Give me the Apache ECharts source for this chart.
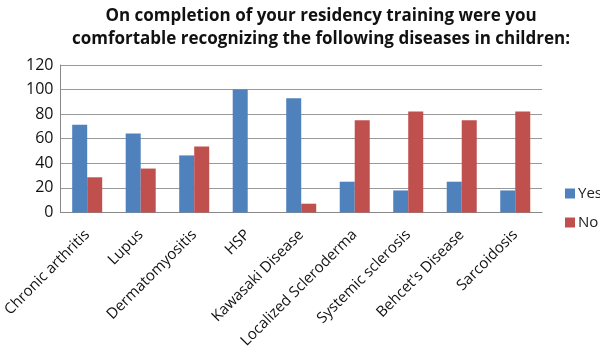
<!DOCTYPE html>
<html>
<head>
<meta charset="utf-8">
<script src="https://cdn.jsdelivr.net/npm/echarts@6/dist/echarts.min.js"></script>
<style>
  html, body { margin: 0; padding: 0; background: #fff; }
  #chart { width: 600px; height: 351px; }
</style>
</head>
<body>
<div id="chart"></div>
<script>
const categories = [
  'Chronic arthritis', 'Lupus', 'Dermatomyositis', 'HSP', 'Kawasaki Disease',
  'Localized Scleroderma', 'Systemic sclerosis', "Behcet's Disease", 'Sarcoidosis'
]
const yesValues = [71.4, 64.3, 46.4, 100, 92.9, 25, 17.9, 25, 17.9]
const noValues = [28.6, 35.7, 53.6, 0, 7.1, 75, 82.1, 75, 82.1]
const yTicks = { min: 0, max: 120, interval: 20 }

const chart = echarts.init(document.getElementById('chart'))

chart.setOption({
  backgroundColor: '#fff',
  animation: false,
  textStyle: { fontFamily: 'Open Sans' },
  title: {
    text: 'On completion of your residency training were you\ncomfortable recognizing the following diseases in children:',
    left: 316,
    top: 0,
    textAlign: 'center',
    textStyle: {
      fontFamily: 'Open Sans',
      fontSize: 17,
      fontWeight: 'bold',
      color: '#111',
      lineHeight: 23,
      align: 'center',
    },
  },
  legend: {
    orient: 'vertical',
    left: 560,
    top: 181,
    itemWidth: 10,
    itemHeight: 10,
    itemGap: 14,
    icon: 'rect',
    textStyle: { fontSize: 15, color: '#222', padding: [0, 0, 0, -2] },
    data: ['Yes', 'No'],
  },
  grid: {
    left: 57,
    right: 58,
    top: 65,
    bottom: 138,
    containLabel: false,
  },
  xAxis: {
    type: 'category',
    data: categories,
    axisLine: { lineStyle: { color: '#888', width: 1 } },
    axisTick: { show: false },
    axisLabel: {
      rotate: 45,
      interval: 0,
      margin: 20,
      fontSize: 15,
      color: '#111',
    },
  },
  yAxis: {
    type: 'value',
    min: yTicks.min,
    max: yTicks.max,
    interval: yTicks.interval,
    axisLine: { show: true, lineStyle: { color: '#888', width: 1 } },
    axisTick: { show: false },
    splitLine: { lineStyle: { color: '#999', width: 1 } },
    axisLabel: { fontSize: 16, color: '#111', margin: 7 },
  },
  series: [
    {
      name: 'Yes',
      type: 'bar',
      data: yesValues,
      barWidth: 15,
      barGap: '0%',
      itemStyle: { color: '#4F81BD' },
    },
    {
      name: 'No',
      type: 'bar',
      data: noValues,
      barWidth: 15,
      itemStyle: { color: '#C0504D' },
    },
  ],
})
</script>
</body>
</html>
